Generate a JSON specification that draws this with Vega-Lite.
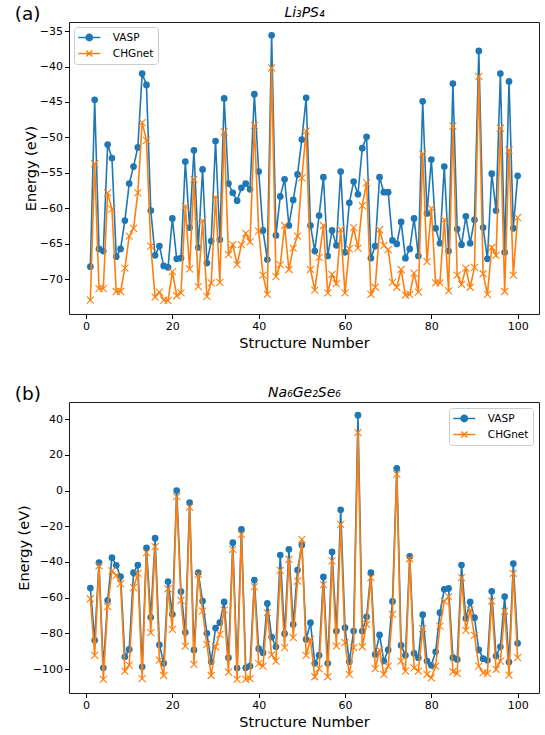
{
  "$schema": "https://vega.github.io/schema/vega-lite/v6.json",
  "background": "white",
  "padding": {"left": 14, "top": 4, "right": 2, "bottom": 2},
  "spacing": 33,
  "datasets": {
    "li": [
      {"n":1,"VASP":-68.2,"CHGnet":-72.9},{"n":2,"VASP":-44.7,"CHGnet":-53.7},{"n":3,"VASP":-65.7,"CHGnet":-71.3},{"n":4,"VASP":-66.0,"CHGnet":-71.3},{"n":5,"VASP":-51.0,"CHGnet":-57.8},
      {"n":6,"VASP":-52.9,"CHGnet":-60.1},{"n":7,"VASP":-66.8,"CHGnet":-71.7},{"n":8,"VASP":-65.7,"CHGnet":-71.7},{"n":9,"VASP":-61.7,"CHGnet":-68.4},{"n":10,"VASP":-56.5,"CHGnet":-63.9},
      {"n":11,"VASP":-54.1,"CHGnet":-62.8},{"n":12,"VASP":-51.4,"CHGnet":-57.8},{"n":13,"VASP":-41.0,"CHGnet":-47.9},{"n":14,"VASP":-42.6,"CHGnet":-50.4},{"n":15,"VASP":-60.3,"CHGnet":-65.3},
      {"n":16,"VASP":-66.6,"CHGnet":-72.5},{"n":17,"VASP":-65.3,"CHGnet":-71.8},{"n":18,"VASP":-68.1,"CHGnet":-72.9},{"n":19,"VASP":-68.3,"CHGnet":-73.0},{"n":20,"VASP":-61.4,"CHGnet":-68.9},
      {"n":21,"VASP":-67.1,"CHGnet":-72.3},{"n":22,"VASP":-67.0,"CHGnet":-71.9},{"n":23,"VASP":-53.4,"CHGnet":-59.7},{"n":24,"VASP":-62.7,"CHGnet":-68.5},{"n":25,"VASP":-51.8,"CHGnet":-55.9},
      {"n":26,"VASP":-65.5,"CHGnet":-71.0},{"n":27,"VASP":-54.5,"CHGnet":-61.7},{"n":28,"VASP":-67.7,"CHGnet":-72.4},{"n":29,"VASP":-64.6,"CHGnet":-70.5},{"n":30,"VASP":-50.5,"CHGnet":-58.4},
      {"n":31,"VASP":-64.4,"CHGnet":-70.4},{"n":32,"VASP":-44.5,"CHGnet":-49.2},{"n":33,"VASP":-56.5,"CHGnet":-66.5},{"n":34,"VASP":-57.8,"CHGnet":-65.1},{"n":35,"VASP":-58.9,"CHGnet":-67.9},
      {"n":36,"VASP":-57.1,"CHGnet":-65.1},{"n":37,"VASP":-56.5,"CHGnet":-63.5},{"n":38,"VASP":-57.3,"CHGnet":-64.7},{"n":39,"VASP":-43.9,"CHGnet":-48.3},{"n":40,"VASP":-54.8,"CHGnet":-63.2},
      {"n":41,"VASP":-63.1,"CHGnet":-69.4},{"n":42,"VASP":-67.2,"CHGnet":-72.1},{"n":43,"VASP":-35.6,"CHGnet":-40.2},{"n":44,"VASP":-63.8,"CHGnet":-69.6},{"n":45,"VASP":-58.3,"CHGnet":-67.9},
      {"n":46,"VASP":-55.9,"CHGnet":-62.4},{"n":47,"VASP":-62.4,"CHGnet":-68.6},{"n":48,"VASP":-58.8,"CHGnet":-65.6},{"n":49,"VASP":-55.2,"CHGnet":-63.9},{"n":50,"VASP":-50.3,"CHGnet":-55.7},
      {"n":51,"VASP":-44.4,"CHGnet":-49.1},{"n":52,"VASP":-62.4,"CHGnet":-68.6},{"n":53,"VASP":-66.0,"CHGnet":-71.5},{"n":54,"VASP":-61.0,"CHGnet":-66.9},{"n":55,"VASP":-55.6,"CHGnet":-62.4},
      {"n":56,"VASP":-66.7,"CHGnet":-71.9},{"n":57,"VASP":-63.1,"CHGnet":-69.3},{"n":58,"VASP":-65.2,"CHGnet":-70.6},{"n":59,"VASP":-54.8,"CHGnet":-63.0},{"n":60,"VASP":-66.2,"CHGnet":-71.9},
      {"n":61,"VASP":-59.2,"CHGnet":-65.7},{"n":62,"VASP":-56.2,"CHGnet":-62.7},{"n":63,"VASP":-58.0,"CHGnet":-65.6},{"n":64,"VASP":-51.5,"CHGnet":-59.6},{"n":65,"VASP":-49.9,"CHGnet":-56.4},
      {"n":66,"VASP":-67.0,"CHGnet":-72.1},{"n":67,"VASP":-65.3,"CHGnet":-71.1},{"n":68,"VASP":-55.6,"CHGnet":-63.0},{"n":69,"VASP":-57.7,"CHGnet":-65.2},{"n":70,"VASP":-57.7,"CHGnet":-65.8},
      {"n":71,"VASP":-64.5,"CHGnet":-70.4},{"n":72,"VASP":-65.0,"CHGnet":-71.1},{"n":73,"VASP":-61.9,"CHGnet":-68.6},{"n":74,"VASP":-67.0,"CHGnet":-72.2},{"n":75,"VASP":-65.7,"CHGnet":-72.1},
      {"n":76,"VASP":-61.4,"CHGnet":-69.1},{"n":77,"VASP":-66.7,"CHGnet":-71.8},{"n":78,"VASP":-44.9,"CHGnet":-52.3},{"n":79,"VASP":-60.7,"CHGnet":-67.5},{"n":80,"VASP":-53.1,"CHGnet":-60.0},
      {"n":81,"VASP":-62.8,"CHGnet":-70.5},{"n":82,"VASP":-64.9,"CHGnet":-70.5},{"n":83,"VASP":-54.1,"CHGnet":-61.6},{"n":84,"VASP":-66.0,"CHGnet":-71.6},{"n":85,"VASP":-42.4,"CHGnet":-48.4},
      {"n":86,"VASP":-62.9,"CHGnet":-69.4},{"n":87,"VASP":-65.1,"CHGnet":-70.7},{"n":88,"VASP":-61.1,"CHGnet":-68.4},{"n":89,"VASP":-64.9,"CHGnet":-71.1},{"n":90,"VASP":-61.6,"CHGnet":-68.3},
      {"n":91,"VASP":-37.8,"CHGnet":-41.4},{"n":92,"VASP":-62.7,"CHGnet":-69.2},{"n":93,"VASP":-67.1,"CHGnet":-72.1},{"n":94,"VASP":-55.1,"CHGnet":-65.5},{"n":95,"VASP":-60.3,"CHGnet":-66.6},
      {"n":96,"VASP":-41.0,"CHGnet":-48.7},{"n":97,"VASP":-66.2,"CHGnet":-71.7},{"n":98,"VASP":-42.1,"CHGnet":-51.8},{"n":99,"VASP":-62.8,"CHGnet":-69.4},{"n":100,"VASP":-55.4,"CHGnet":-61.3}
    ],
    "na": [
      {"n":1,"VASP":-54.6,"CHGnet":-60.6},{"n":2,"VASP":-83.9,"CHGnet":-92.3},{"n":3,"VASP":-40.4,"CHGnet":-42.2},{"n":4,"VASP":-99.3,"CHGnet":-105.8},{"n":5,"VASP":-61.5,"CHGnet":-65.0},
      {"n":6,"VASP":-37.6,"CHGnet":-45.0},{"n":7,"VASP":-41.9,"CHGnet":-47.5},{"n":8,"VASP":-48.2,"CHGnet":-52.1},{"n":9,"VASP":-93.1,"CHGnet":-101.1},{"n":10,"VASP":-89.0,"CHGnet":-97.8},
      {"n":11,"VASP":-46.0,"CHGnet":-54.4},{"n":12,"VASP":-41.7,"CHGnet":-46.4},{"n":13,"VASP":-98.7,"CHGnet":-105.4},{"n":14,"VASP":-32.1,"CHGnet":-34.8},{"n":15,"VASP":-71.0,"CHGnet":-79.6},
      {"n":16,"VASP":-26.7,"CHGnet":-31.4},{"n":17,"VASP":-86.4,"CHGnet":-95.0},{"n":18,"VASP":-96.8,"CHGnet":-103.6},{"n":19,"VASP":-51.0,"CHGnet":-55.0},{"n":20,"VASP":-69.3,"CHGnet":-77.8},
      {"n":21,"VASP":0.0,"CHGnet":-3.4},{"n":22,"VASP":-56.6,"CHGnet":-61.5},{"n":23,"VASP":-79.4,"CHGnet":-87.1},{"n":24,"VASP":-6.7,"CHGnet":-9.3},{"n":25,"VASP":-89.3,"CHGnet":-97.4},
      {"n":26,"VASP":-46.0,"CHGnet":-46.9},{"n":27,"VASP":-61.9,"CHGnet":-67.5},{"n":28,"VASP":-80.0,"CHGnet":-86.2},{"n":29,"VASP":-95.9,"CHGnet":-103.6},{"n":30,"VASP":-77.0,"CHGnet":-87.5},
      {"n":31,"VASP":-74.0,"CHGnet":-80.6},{"n":32,"VASP":-62.4,"CHGnet":-66.9},{"n":33,"VASP":-93.6,"CHGnet":-101.7},{"n":34,"VASP":-29.2,"CHGnet":-32.9},{"n":35,"VASP":-99.4,"CHGnet":-105.8},
      {"n":36,"VASP":-21.7,"CHGnet":-24.5},{"n":37,"VASP":-99.3,"CHGnet":-105.8},{"n":38,"VASP":-98.3,"CHGnet":-105.4},{"n":39,"VASP":-50.1,"CHGnet":-53.8},{"n":40,"VASP":-88.6,"CHGnet":-97.0},
      {"n":41,"VASP":-90.8,"CHGnet":-98.3},{"n":42,"VASP":-63.2,"CHGnet":-68.4},{"n":43,"VASP":-82.1,"CHGnet":-92.0},{"n":44,"VASP":-87.5,"CHGnet":-95.5},{"n":45,"VASP":-36.1,"CHGnet":-44.7},
      {"n":46,"VASP":-80.2,"CHGnet":-88.0},{"n":47,"VASP":-32.9,"CHGnet":-38.5},{"n":48,"VASP":-75.0,"CHGnet":-82.4},{"n":49,"VASP":-44.5,"CHGnet":-50.7},{"n":50,"VASP":-30.5,"CHGnet":-27.3},
      {"n":51,"VASP":-83.4,"CHGnet":-92.3},{"n":52,"VASP":-74.0,"CHGnet":-83.4},{"n":53,"VASP":-96.8,"CHGnet":-104.3},{"n":54,"VASP":-92.3,"CHGnet":-99.8},{"n":55,"VASP":-48.4,"CHGnet":-52.7},
      {"n":56,"VASP":-96.8,"CHGnet":-104.3},{"n":57,"VASP":-34.4,"CHGnet":-39.4},{"n":58,"VASP":-78.7,"CHGnet":-87.1},{"n":59,"VASP":-10.8,"CHGnet":-18.9},{"n":60,"VASP":-76.8,"CHGnet":-85.2},
      {"n":61,"VASP":-95.9,"CHGnet":-103.0},{"n":62,"VASP":-78.7,"CHGnet":-88.0},{"n":63,"VASP":42.2,"CHGnet":32.5},{"n":64,"VASP":-78.7,"CHGnet":-87.5},{"n":65,"VASP":-70.7,"CHGnet":-75.0},
      {"n":66,"VASP":-46.0,"CHGnet":-48.8},{"n":67,"VASP":-91.8,"CHGnet":-99.8},{"n":68,"VASP":-80.9,"CHGnet":-89.3},{"n":69,"VASP":-95.5,"CHGnet":-103.0},{"n":70,"VASP":-89.3,"CHGnet":-98.3},
      {"n":71,"VASP":-62.1,"CHGnet":-69.3},{"n":72,"VASP":12.5,"CHGnet":9.2},{"n":73,"VASP":-86.7,"CHGnet":-95.5},{"n":74,"VASP":-92.3,"CHGnet":-101.1},{"n":75,"VASP":-36.8,"CHGnet":-38.2},
      {"n":76,"VASP":-91.2,"CHGnet":-99.3},{"n":77,"VASP":-93.6,"CHGnet":-101.1},{"n":78,"VASP":-69.5,"CHGnet":-77.4},{"n":79,"VASP":-95.5,"CHGnet":-103.0},{"n":80,"VASP":-97.9,"CHGnet":-104.9},
      {"n":81,"VASP":-90.3,"CHGnet":-98.3},{"n":82,"VASP":-68.4,"CHGnet":-75.9},{"n":83,"VASP":-55.3,"CHGnet":-61.9},{"n":84,"VASP":-54.8,"CHGnet":-59.4},{"n":85,"VASP":-93.6,"CHGnet":-101.5},
      {"n":86,"VASP":-94.6,"CHGnet":-102.4},{"n":87,"VASP":-41.7,"CHGnet":-48.8},{"n":88,"VASP":-71.6,"CHGnet":-78.3},{"n":89,"VASP":-62.4,"CHGnet":-66.9},{"n":90,"VASP":-71.2,"CHGnet":-81.1},
      {"n":91,"VASP":-89.3,"CHGnet":-98.3},{"n":92,"VASP":-94.2,"CHGnet":-102.1},{"n":93,"VASP":-95.1,"CHGnet":-102.4},{"n":94,"VASP":-56.4,"CHGnet":-61.9},{"n":95,"VASP":-92.7,"CHGnet":-100.2},
      {"n":96,"VASP":-87.5,"CHGnet":-95.5},{"n":97,"VASP":-59.4,"CHGnet":-67.5},{"n":98,"VASP":-96.1,"CHGnet":-103.4},{"n":99,"VASP":-40.9,"CHGnet":-46.4},{"n":100,"VASP":-85.6,"CHGnet":-93.6}
    ]
  },
  "resolve": {"legend": {"color": "independent"}},
  "vconcat": [
    {
      "width": 470, "height": 292,
      "data": {"name": "li"},
      "title": {"text": "(a)", "anchor": "start", "frame": "group", "fontSize": 18.5, "offset": -18, "dx": -54.3},
      "layer": [
        {
          "mark": {"type": "line", "strokeWidth": 1.6},
          "encoding": {
            "x": {"field": "n", "type": "quantitative", "scale": {"domain": [-3.95, 104.95], "nice": false, "zero": false},
                  "axis": {"orient": "bottom", "values": [0, 20, 40, 60, 80, 100], "title": "Structure Number"}},
            "y": {"field": "VASP", "type": "quantitative", "scale": {"domain": [-74.87, -33.73], "nice": false, "zero": false},
                  "axis": {"orient": "left", "values": [-70, -65, -60, -55, -50, -45, -40, -35], "title": "Energy (eV)"}},
            "color": {"datum": "VASP", "type": "nominal",
              "scale": {"domain": ["VASP", "CHGnet"], "range": ["#1f77b4", "#ff7f0e"]},
              "legend": {"orient": "top-left", "offset": 5,
                "encode": {"symbols": {"update": {
                  "shape": {"signal": "datum.value === 'VASP' ? 'M-2,0L2,0M-0.58,0A0.58,0.58,0,1,0,0.58,0A0.58,0.58,0,1,0,-0.58,0' : 'M-2,0L2,0M-0.55,-0.55L0.55,0.55M-0.55,0.55L0.55,-0.55'"},
                  "fill": {"signal": "datum.value === 'VASP' ? '#1f77b4' : 'transparent'"},
                  "stroke": {"signal": "datum.value === 'VASP' ? '#1f77b4' : '#ff7f0e'"},
                  "strokeWidth": {"value": 1.5}, "opacity": {"value": 1}}}}}}
          }
        },
        {
          "mark": {"type": "point", "shape": "circle", "filled": true, "size": 45, "color": "#1f77b4", "opacity": 1},
          "encoding": {
            "x": {"field": "n", "type": "quantitative", "axis": null},
            "y": {"field": "VASP", "type": "quantitative",
                  "axis": {"orient": "left", "values": [-70, -65, -60, -55, -50, -45, -40, -35], "title": "Energy (eV)"}}
          }
        },
        {
          "mark": {"type": "line", "strokeWidth": 1.6},
          "encoding": {
            "x": {"field": "n", "type": "quantitative",
                  "axis": {"orient": "top", "title": "Li₃PS₄", "labels": false, "ticks": false, "domain": false, "grid": false, "titleFontStyle": "italic", "titleFontSize": 14, "titlePadding": 3}},
            "y": {"field": "CHGnet", "type": "quantitative",
                  "axis": {"orient": "left", "values": [-70, -65, -60, -55, -50, -45, -40, -35], "title": "Energy (eV)"}},
            "color": {"datum": "CHGnet", "type": "nominal", "legend": null}
          }
        },
        {
          "mark": {"type": "point", "shape": "M-1,-1L1,1M-1,1L1,-1", "filled": false, "size": 49, "color": "#ff7f0e", "strokeWidth": 1.1, "opacity": 1},
          "encoding": {
            "x": {"field": "n", "type": "quantitative", "axis": null},
            "y": {"field": "CHGnet", "type": "quantitative",
                  "axis": {"orient": "left", "values": [-70, -65, -60, -55, -50, -45, -40, -35], "title": "Energy (eV)"}}
          }
        }
      ]
    },
    {
      "width": 470, "height": 291,
      "data": {"name": "na"},
      "title": {"text": "(b)", "anchor": "start", "frame": "group", "fontSize": 18.5, "offset": -18, "dx": -54.3},
      "layer": [
        {
          "mark": {"type": "line", "strokeWidth": 1.6},
          "encoding": {
            "x": {"field": "n", "type": "quantitative", "scale": {"domain": [-3.95, 104.95], "nice": false, "zero": false},
                  "axis": {"orient": "bottom", "values": [0, 20, 40, 60, 80, 100], "title": "Structure Number"}},
            "y": {"field": "VASP", "type": "quantitative", "scale": {"domain": [-113.4, 49.6], "nice": false, "zero": false},
                  "axis": {"orient": "left", "values": [-100, -80, -60, -40, -20, 0, 20, 40], "title": "Energy (eV)"}},
            "color": {"datum": "VASP", "type": "nominal",
              "scale": {"domain": ["VASP", "CHGnet"], "range": ["#1f77b4", "#ff7f0e"]},
              "legend": {"orient": "top-right", "offset": 6,
                "encode": {"symbols": {"update": {
                  "shape": {"signal": "datum.value === 'VASP' ? 'M-2,0L2,0M-0.58,0A0.58,0.58,0,1,0,0.58,0A0.58,0.58,0,1,0,-0.58,0' : 'M-2,0L2,0M-0.55,-0.55L0.55,0.55M-0.55,0.55L0.55,-0.55'"},
                  "fill": {"signal": "datum.value === 'VASP' ? '#1f77b4' : 'transparent'"},
                  "stroke": {"signal": "datum.value === 'VASP' ? '#1f77b4' : '#ff7f0e'"},
                  "strokeWidth": {"value": 1.5}, "opacity": {"value": 1}}}}}}
          }
        },
        {
          "mark": {"type": "point", "shape": "circle", "filled": true, "size": 45, "color": "#1f77b4", "opacity": 1},
          "encoding": {
            "x": {"field": "n", "type": "quantitative", "axis": null},
            "y": {"field": "VASP", "type": "quantitative",
                  "axis": {"orient": "left", "values": [-100, -80, -60, -40, -20, 0, 20, 40], "title": "Energy (eV)"}}
          }
        },
        {
          "mark": {"type": "line", "strokeWidth": 1.6},
          "encoding": {
            "x": {"field": "n", "type": "quantitative",
                  "axis": {"orient": "top", "title": "Na₆Ge₂Se₆", "labels": false, "ticks": false, "domain": false, "grid": false, "titleFontStyle": "italic", "titleFontSize": 14, "titlePadding": 3}},
            "y": {"field": "CHGnet", "type": "quantitative",
                  "axis": {"orient": "left", "values": [-100, -80, -60, -40, -20, 0, 20, 40], "title": "Energy (eV)"}},
            "color": {"datum": "CHGnet", "type": "nominal", "legend": null}
          }
        },
        {
          "mark": {"type": "point", "shape": "M-1,-1L1,1M-1,1L1,-1", "filled": false, "size": 49, "color": "#ff7f0e", "strokeWidth": 1.1, "opacity": 1},
          "encoding": {
            "x": {"field": "n", "type": "quantitative", "axis": null},
            "y": {"field": "CHGnet", "type": "quantitative",
                  "axis": {"orient": "left", "values": [-100, -80, -60, -40, -20, 0, 20, 40], "title": "Energy (eV)"}}
          }
        }
      ]
    }
  ],
  "config": {
    "font": "DejaVu Sans",
    "view": {"stroke": "#1a1a1a", "strokeWidth": 1},
    "title": {"font": "DejaVu Sans", "fontWeight": "normal", "color": "#000", "baseline": "alphabetic"},
    "axis": {
      "grid": false, "domain": false,
      "labelFont": "DejaVu Sans", "labelFontSize": 11, "labelColor": "#000",
      "titleFont": "DejaVu Sans", "titleFontSize": 14.5, "titleFontWeight": "normal", "titleColor": "#000",
      "tickColor": "#000", "tickSize": 4.5, "labelPadding": 2, "titlePadding": 5
    },
    "axisLeft": {"titlePadding": 1},
    "legend": {
      "title": null,
      "symbolSize": 121, "symbolOffset": 4.8, "labelOffset": 17, "padding": 4, "rowPadding": 3,
      "labelFont": "DejaVu Sans", "labelFontSize": 10.5, "labelColor": "#000",
      "fillColor": "rgba(255,255,255,0.8)", "strokeColor": "#cccccc", "cornerRadius": 3,
      "symbolStrokeWidth": 1.5
    }
  }
}
